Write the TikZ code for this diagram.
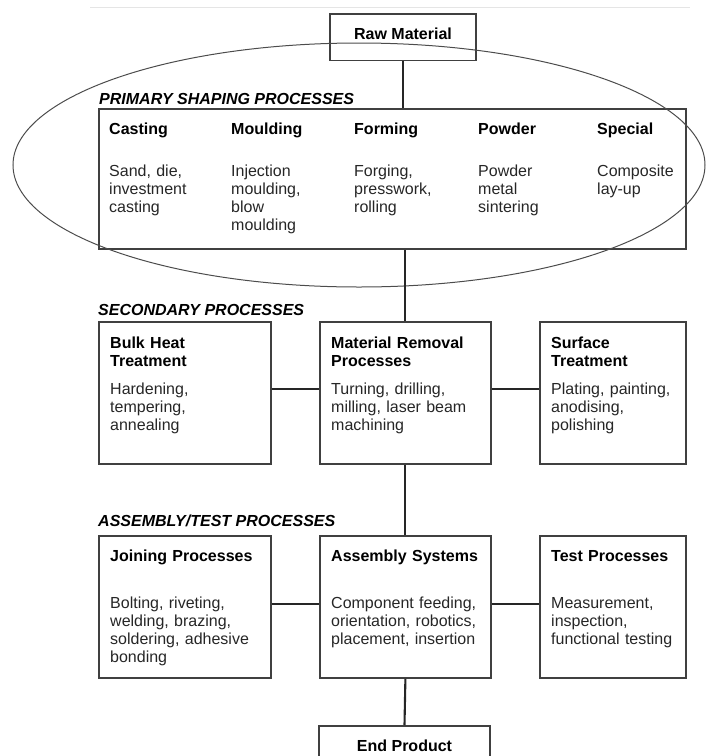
\documentclass[tikz,border=0pt]{standalone}
\usepackage{fontspec}
\setmainfont{Liberation Sans}

\begin{document}
\begin{tikzpicture}[x=1pt, y=-1pt,
  font=\fontsize{16}{18}\selectfont,
  box/.style={draw=black!75, line width=1.8pt, inner sep=0, anchor=north west},
  term/.style={draw=black!75, line width=1.8pt, anchor=north, font=\fontsize{16}{18}\selectfont\bfseries, text height=11.5pt, text depth=7pt, inner ysep=14pt},
  head/.style={anchor=base west, inner sep=0, align=left, text width=165pt, font=\fontsize{16}{18}\selectfont\bfseries},
  desc/.style={anchor=base west, inner sep=0, align=left, text width=165pt, text=black!85},
  group/.style={anchor=west, inner sep=0, font=\fontsize{16}{18}\selectfont\bfseries\itshape},
  link/.style={line width=2.1pt, black!85}]
\useasboundingbox (0,0) rectangle (706,756);
\clip (0,0) rectangle (706,756);

\draw[black!10, line width=1pt] (90,7) -- (690,7);

\node[term, minimum width=146] (raw) at (403, 13) {Raw Material};

\def\x{98}
\def\y{108}
\node[box, minimum width=587, minimum height=140] (prim) at (\x, \y) {};
\node[group] (pgroup) at (\x + 1, \y - 9) {PRIMARY SHAPING PROCESSES};
\node[head] (cast) at (\x + 11, \y + 26) {Casting};
\node[head] (mould) at (\x + 133, \y + 26) {Moulding};
\node[head] (form) at (\x + 256, \y + 26) {Forming};
\node[head] (powd) at (\x + 380, \y + 26) {Powder};
\node[head] (spec) at (\x + 499, \y + 26) {Special};
\node[desc] (castd) at (\x + 11, \y + 68) {Sand, die,\\investment\\casting};
\node[desc] (mouldd) at (\x + 133, \y + 68) {Injection\\moulding,\\blow\\moulding};
\node[desc] (formd) at (\x + 256, \y + 68) {Forging,\\presswork,\\rolling};
\node[desc] (powdd) at (\x + 380, \y + 68) {Powder\\metal\\sintering};
\node[desc] (specd) at (\x + 499, \y + 68) {Composite\\lay-up};

\draw[black!70, line width=1pt] (359, 165) ellipse [x radius=346, y radius=122];

\def\x{98}
\def\y{321}
\node[group] (sgroup) at (\x + 0, \y - 11) {SECONDARY PROCESSES};
\node[box, minimum width=172, minimum height=142] (bh) at (\x + 0, \y) {};
\node[box, minimum width=171, minimum height=142] (mr) at (\x + 221, \y) {};
\node[box, minimum width=146, minimum height=142] (st) at (\x + 441, \y) {};
\node[head] (bhh) at (\x + 12, \y + 27) {Bulk Heat\\Treatment};
\node[head] (mrh) at (\x + 233, \y + 27) {Material Removal\\Processes};
\node[head] (sth) at (\x + 453, \y + 27) {Surface\\Treatment};
\node[desc] (bhd) at (\x + 12, \y + 73) {Hardening,\\tempering,\\annealing};
\node[desc] (mrd) at (\x + 233, \y + 73) {Turning, drilling,\\milling, laser beam\\machining};
\node[desc] (std) at (\x + 453, \y + 73) {Plating, painting,\\anodising,\\polishing};

\def\x{98}
\def\y{535}
\node[group] (agroup) at (\x + 0, \y - 14) {ASSEMBLY/TEST PROCESSES};
\node[box, minimum width=172, minimum height=142] (jp) at (\x + 0, \y) {};
\node[box, minimum width=171, minimum height=142] (as) at (\x + 221, \y) {};
\node[box, minimum width=146, minimum height=142] (tp) at (\x + 441, \y) {};
\node[head] (jph) at (\x + 12, \y + 26) {Joining Processes};
\node[head] (ash) at (\x + 233, \y + 26) {Assembly Systems};
\node[head] (tph) at (\x + 453, \y + 26) {Test Processes};
\node[desc] (jpd) at (\x + 12, \y + 73) {Bolting, riveting,\\welding, brazing,\\soldering, adhesive\\bonding};
\node[desc] (asd) at (\x + 233, \y + 73) {Component feeding,\\orientation, robotics,\\placement, insertion};
\node[desc] (tpd) at (\x + 453, \y + 73) {Measurement,\\inspection,\\functional testing};

\node[term, minimum width=171] (end) at (404.5, 725) {End Product};

\draw[link] (raw.south) -- (raw.south |- prim.north);
\draw[link] (prim.south -| mr.north) -- (mr.north);
\draw[link] ([yshift=4]bh.east) -- ([yshift=4]mr.west);
\draw[link] ([yshift=4]mr.east) -- ([yshift=4]st.west);
\draw[link] (mr.south) -- (as.north);
\draw[link] ([yshift=3]jp.east) -- ([yshift=3]as.west);
\draw[link] ([yshift=3]as.east) -- ([yshift=3]tp.west);
\draw[link] (as.south) -- (end.north);

\end{tikzpicture}
\end{document}
